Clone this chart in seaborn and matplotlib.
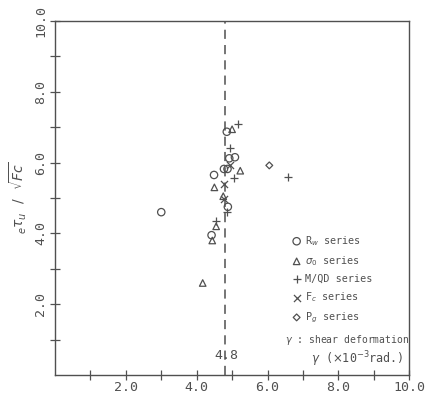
import pandas as pd
import matplotlib.pyplot as plt
import seaborn as sns

sns.set_style("ticks")
plt.rcParams['font.family'] = ['DejaVu Sans Mono']
plt.rcParams['mathtext.fontset'] = 'dejavusans'

INK = '#505050'

# data (gamma x10^-3 rad, e_tau_u / sqrt(Fc))
rw_x = [3.0, 4.85, 4.92, 5.08, 4.77, 4.87, 4.49, 4.88, 4.42]
rw_y = [4.6, 6.87, 6.12, 6.15, 5.82, 5.82, 5.65, 4.75, 3.95]
s0_x = [5.0, 5.23, 4.5, 4.75, 4.55, 4.44, 4.17]
s0_y = [6.94, 5.77, 5.3, 5.05, 4.2, 3.8, 2.6]
mq_x = [5.18, 4.94, 5.04, 6.59, 4.87, 4.55]
mq_y = [7.1, 6.4, 5.57, 5.6, 4.6, 4.35]
fc_x = [4.94, 4.76, 4.77]
fc_y = [5.93, 5.4, 4.97]
pg_x = [6.05]
pg_y = [5.92]

series = [
    (r'R$_w$ series', rw_x, rw_y, 'o', 28),
    (r'$\sigma_0$ series', s0_x, s0_y, '^', 22),
    ('M/QD series', mq_x, mq_y, '+', 36),
    (r'F$_c$ series', fc_x, fc_y, 'x', 26),
    (r'P$_g$ series', pg_x, pg_y, 'D', 12),
]
gamma_limit = 4.8

fig = plt.figure(figsize=(4.4, 3.94), dpi=100)
ax = fig.add_axes([0.125, 0.048, 0.805, 0.899])

for label, xs, ys, mk, size in series:
    df = pd.DataFrame({'x': xs, 'y': ys})
    if mk in ('+', 'x'):
        sns.scatterplot(data=df, x='x', y='y', marker=mk, s=size, color=INK,
                        linewidth=0.9, label=label, ax=ax)
    else:
        sns.scatterplot(data=df, x='x', y='y', marker=mk, s=size,
                        facecolor='none', edgecolor=INK, linewidth=0.9,
                        label=label, ax=ax)

ax.axvline(gamma_limit, color=INK, linestyle=(0, (6, 4)), linewidth=1.1)

ax.set_xlim(0, 10)
ax.set_ylim(0, 10)
ax.set_xticks([1, 2, 3, 4, 5, 6, 7, 8, 9, 10])
ax.set_xticklabels(['', '2.0', '', '4.0', '', '6.0', '', '8.0', '', '10.0'])
ax.set_yticks([1, 2, 3, 4, 5, 6, 7, 8, 9, 10])
ax.set_yticklabels(['', '2.0', '', '4.0', '', '6.0', '', '8.0', '', '10.0'],
                   rotation=90, va='center')
ax.tick_params(direction='inout', length=7, width=0.9, colors=INK,
               labelsize=9.5, pad=2)
ax.tick_params(axis='x', pad=0.5)
for sp in ax.spines.values():
    sp.set_visible(True)
    sp.set_color(INK)
    sp.set_linewidth(1.0)
ax.set_xlabel('')
ax.set_ylabel(r'$_e\tau_u\ \ /\ \ \sqrt{Fc}$', color=INK, fontsize=10, labelpad=4)

leg = ax.legend(loc='upper left', bbox_to_anchor=(0.655, 0.41), frameon=False,
                fontsize=7.3, handletextpad=0.3, labelspacing=0.62,
                handlelength=1.1, borderaxespad=0)
for t in leg.get_texts():
    t.set_color(INK)

ax.text(0.65, 0.1, r'$\gamma$ : shear deformation', transform=ax.transAxes,
        fontsize=7, color=INK, ha='left', va='center')
ax.text(0.985, 0.045, r'$\gamma$ ($\times$10$^{-3}$rad.)', transform=ax.transAxes,
        fontsize=8.5, color=INK, ha='right', va='center')
ax.text(gamma_limit + 0.05, 0.54, '4.8', fontsize=9.5, color=INK, ha='center', va='center')

fig.savefig('out.png', dpi=100)
